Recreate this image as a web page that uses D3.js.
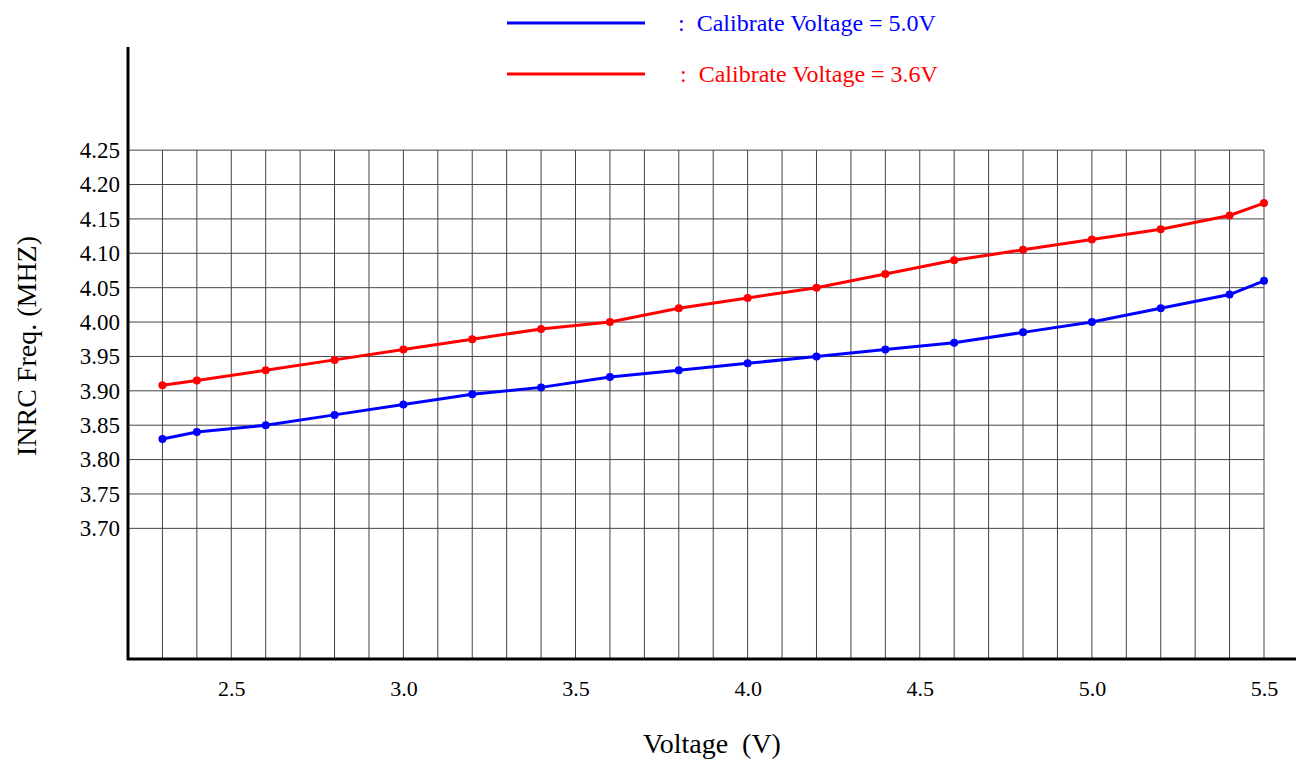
<!DOCTYPE html>
<html>
<head>
<meta charset="utf-8">
<script src="https://cdn.jsdelivr.net/npm/d3@7"></script>
<style>
  body { margin: 0; background: #fff; }
  svg { display: block; font-family: "Liberation Serif", "DejaVu Serif", serif; }
</style>
</head>
<body>
<svg id="chart" width="1296" height="763"></svg>
<script>
// data
var voltages = [2.3, 2.4, 2.6, 2.8, 3.0, 3.2, 3.4, 3.6, 3.8, 4.0, 4.2, 4.4, 4.6, 4.8, 5.0, 5.2, 5.4, 5.5]
var freq50 = [3.83, 3.84, 3.85, 3.865, 3.88, 3.895, 3.905, 3.92, 3.93, 3.94, 3.95, 3.96, 3.97, 3.985, 4.00, 4.02, 4.04, 4.06]
var freq36 = [3.908, 3.915, 3.93, 3.945, 3.96, 3.975, 3.99, 4.00, 4.02, 4.035, 4.05, 4.07, 4.09, 4.105, 4.12, 4.135, 4.155, 4.173]
var xTicks = [2.5, 3.0, 3.5, 4.0, 4.5, 5.0, 5.5]
var yTicks = [4.25, 4.20, 4.15, 4.10, 4.05, 4.00, 3.95, 3.90, 3.85, 3.80, 3.75, 3.70]
var xGrid = d3.range(23, 56).map(function(d) { return d / 10 })
var seriesNames = [':  Calibrate Voltage = 5.0V', ':  Calibrate Voltage = 3.6V']
var seriesColors = ['#0000ff', '#ff0000']

var svg = d3.select('#chart')

var x = d3.scaleLinear().domain([2.2, 5.5]).range([128, 1264])
var y = d3.scaleLinear().domain([3.51, 4.40]).range([659, 47])

// grid
var grid = svg.append('g')
grid.selectAll('.vg')
    .data(xGrid)
    .enter()
    .append('line')
    .attr('x1', function(d) { return x(d) })
    .attr('x2', function(d) { return x(d) })
    .attr('y1', y(4.25))
    .attr('y2', y(3.51))
    .attr('stroke', '#444')
    .attr('stroke-width', 1)

grid.selectAll('.hg')
    .data(yTicks)
    .enter()
    .append('line')
    .attr('x1', x(2.2))
    .attr('x2', x(5.5))
    .attr('y1', function(d) { return y(d) })
    .attr('y2', function(d) { return y(d) })
    .attr('stroke', '#444')
    .attr('stroke-width', 1)

// axes
var xAxis = d3.axisBottom(x).tickValues(xTicks).tickSize(0).tickPadding(21)
    .tickFormat(d3.format('.1f'))
var gx = svg.append('g').attr('transform', 'translate(0,659)').call(xAxis)
gx.select('.domain').remove()
gx.selectAll('text').attr('font-size', 22).attr('font-family', '"Liberation Serif", serif').attr('fill', '#000')

var yAxis = d3.axisLeft(y).tickValues(yTicks).tickSize(0).tickPadding(8)
    .tickFormat(d3.format('.2f'))
var gy = svg.append('g').attr('transform', 'translate(128,0)').call(yAxis)
gy.select('.domain').remove()
gy.selectAll('text').attr('font-size', 23).attr('font-family', '"Liberation Serif", serif').attr('fill', '#000')

svg.append('line')
    .attr('x1', 128).attr('x2', 128)
    .attr('y1', 47).attr('y2', 660)
    .attr('stroke', '#000').attr('stroke-width', 3)
svg.append('line')
    .attr('x1', 127).attr('x2', 1296)
    .attr('y1', 659).attr('y2', 659)
    .attr('stroke', '#000').attr('stroke-width', 3)

// axis titles
svg.append('text')
    .attr('x', 712).attr('y', 753)
    .attr('text-anchor', 'middle')
    .attr('font-size', 28)
    .style('white-space', 'pre')
    .text('Voltage  (V)')

svg.append('text')
    .attr('transform', 'translate(36,346) rotate(-90)')
    .attr('text-anchor', 'middle')
    .attr('font-size', 28)
    .text('INRC Freq. (MHZ)')

// series
var series = [freq50, freq36]
var line = d3.line()
    .x(function(d) { return x(d[0]) })
    .y(function(d) { return y(d[1]) })

series.forEach(function(vals, i) {
    var pts = voltages.map(function(v, j) { return [v, vals[j]] })
    svg.append('path')
        .datum(pts)
        .attr('d', line)
        .attr('fill', 'none')
        .attr('stroke', seriesColors[i])
        .attr('stroke-width', 3)
    svg.append('g').selectAll('circle')
        .data(pts)
        .enter()
        .append('circle')
        .attr('cx', function(d) { return x(d[0]) })
        .attr('cy', function(d) { return y(d[1]) })
        .attr('r', 4)
        .attr('fill', seriesColors[i])
})

// legend
var legendY = [23, 74]
seriesNames.forEach(function(name, i) {
    svg.append('line')
        .attr('x1', 507).attr('x2', 645)
        .attr('y1', legendY[i]).attr('y2', legendY[i])
        .attr('stroke', seriesColors[i])
        .attr('stroke-width', 3)
    svg.append('text')
        .attr('x', 678 + i * 2)
        .attr('y', legendY[i] + 8)
        .attr('font-size', 24)
        .attr('fill', seriesColors[i])
        .style('white-space', 'pre')
        .text(name)
})
</script>
</body>
</html>
